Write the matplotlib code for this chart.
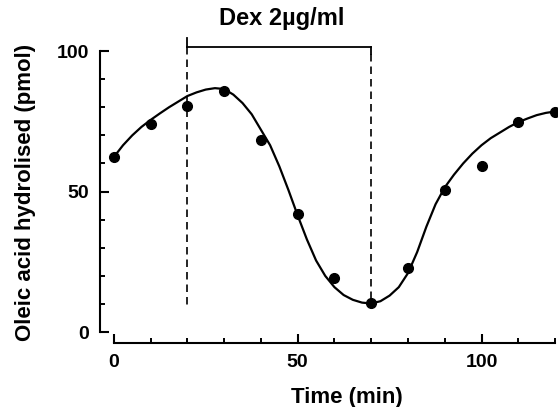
import numpy as np
import matplotlib
matplotlib.use("Agg")
import matplotlib.pyplot as plt
from matplotlib.ticker import MultipleLocator

plt.rcParams['font.family'] = ['Liberation Sans', 'DejaVu Sans']

# measured points
time_pts = [0, 10, 20, 30, 40, 50, 60, 70, 80, 90, 100, 110, 120]
oleic_pts = [62.3, 74, 80.4, 85.8, 68.3, 42, 19.2, 10.3, 22.8, 50.5, 59, 74.7, 78.3]

# fitted curve, every 2.5 min
curve_t = [0, 2.5, 5, 7.5, 10, 12.5, 15, 17.5, 20, 22.5, 25, 27.5, 30, 32.5, 35,
           37.5, 40, 42.5, 45, 47.5, 50, 52.5, 55, 57.5, 60, 62.5, 65, 67.5, 70,
           72.5, 75, 77.5, 80, 82.5, 85, 87.5, 90, 92.5, 95, 97.5, 100, 102.5,
           105, 107.5, 110, 112.5, 115, 117.5, 120]
curve_y = [62.3, 66.5, 70, 73, 75.5, 77.8, 80, 82, 84, 85.3, 86.3, 86.8, 86.5,
           84.5, 81.5, 77.5, 72, 66.5, 59, 50.5, 41.5, 33, 25.5, 20, 16, 13.2,
           11.5, 10.5, 10.2, 11, 13, 16, 21, 28.5, 37.5, 45.5, 51.5, 56, 60, 63.5,
           66.5, 69, 71, 73, 74.7, 76, 77.2, 78, 78.5]

dex_start, dex_end = 20, 70
dex_label = 'Dex 2µg/ml'

fig = plt.figure(figsize=(5.58, 4.07), dpi=100)
ax = fig.add_axes([0.179, 0.157, 0.819, 0.759])

ax.plot(curve_t, curve_y, color='black', lw=1.6)
ax.plot(time_pts, oleic_pts, 'o', color='black', ms=7)

# Dex treatment bracket
top = 101.5
ax.plot([dex_start, dex_end], [top, top], color='black', lw=1.3)
ax.plot([dex_start, dex_start], [top, 104.6], color='black', lw=1.3)
ax.plot([dex_end, dex_end], [top, 99.0], color='black', lw=1.3)
ax.plot([dex_start, dex_start], [top, 9.6], color='black', lw=1.2, dashes=(4.5, 3))
ax.plot([dex_end, dex_end], [99.0, 10.3], color='black', lw=1.2, dashes=(4.5, 3))
ax.text(45.6, 111.5, dex_label, ha='center', va='center', fontsize=17,
        fontweight='bold', clip_on=False)

ax.set_xlim(-3.8, 120.5)
ax.set_ylim(-3.9, 106)
for s in ['top', 'right']:
    ax.spines[s].set_visible(False)
ax.spines['left'].set_bounds(0, 100)
ax.spines['bottom'].set_bounds(0, 120)
for s in ['left', 'bottom']:
    ax.spines[s].set_linewidth(1.5)

ax.xaxis.set_major_locator(MultipleLocator(50))
ax.xaxis.set_minor_locator(MultipleLocator(10))
ax.yaxis.set_major_locator(MultipleLocator(50))
ax.yaxis.set_minor_locator(MultipleLocator(10))
ax.tick_params(which='major', direction='in', length=6.5, width=1.5,
               labelsize=14, pad=8)
ax.tick_params(which='minor', direction='in', length=3.8, width=1.4)
for lab in ax.get_xticklabels() + ax.get_yticklabels():
    lab.set_fontweight('bold')

ax.set_xlabel('Time (min)', fontsize=16, fontweight='bold')
ax.set_ylabel('Oleic acid hydrolised (pmol)', fontsize=16, fontweight='bold')
ax.xaxis.set_label_coords(0.54, -0.175)
ax.yaxis.set_label_coords(-0.162, 0.489)
ax.xaxis.label.set_va('center')
ax.yaxis.label.set_va('center')

fig.savefig('out.png', dpi=100)
